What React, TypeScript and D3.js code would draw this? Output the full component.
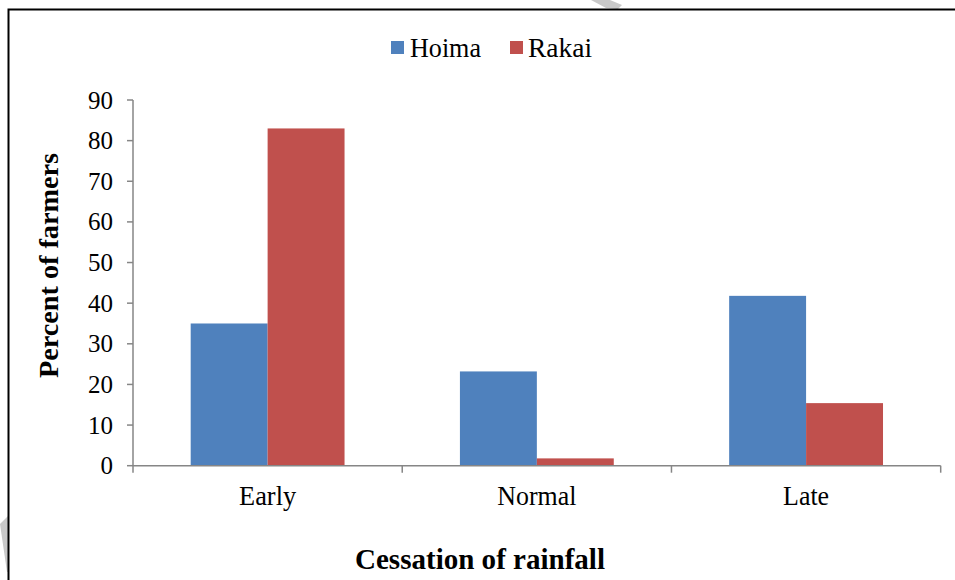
import React from "react";
import * as d3 from "d3";

const categories = ["Early", "Normal", "Late"];
const seriesNames = ["Hoima", "Rakai"];
const hoima = [35, 23.2, 41.8];
const rakai = [83, 1.8, 15.4];
const yTicks = [0, 10, 20, 30, 40, 50, 60, 70, 80, 90];
const colors = ["#4F81BD", "#C0504D"];

const W = 955;
const H = 580;
const left = 133;
const right = 940.7;
const top = 100;
const bottom = 465.7;
const axisColor = "#868686";
const font = "'Liberation Serif', 'Times New Roman', serif";

export default function App() {
  const x = d3.scaleBand<string>().domain(categories).range([left, right]).paddingInner(0).paddingOuter(0);
  const y = d3.scaleLinear().domain([0, 90]).range([bottom, top]);
  const bw = x.bandwidth() / 3.5;
  const inner = d3.scaleBand<string>().domain(seriesNames).range([0, 2 * bw]);
  const values = [hoima, rakai];
  const tickXs = [...categories.map((c) => x(c) as number), right];
  const catWidths = [57, 79, 46];

  return (
    <svg width={W} height={H} style={{ position: "absolute", left: 0, top: 0, background: "#fff" }}>
      <rect x={0} y={0} width={W} height={H} fill="#fff" />
      {/* watermark fragments */}
      <polygon points="591,0 610,0 622,5 618,9 606,8" fill="#c9c9c9" />
      <polygon points="0,524 8,516 8,572 7,572" fill="#c9c9c9" />
      {/* border */}
      <rect x={8.5} y={9.5} width={W + 20} height={H + 20} fill="none" stroke="#000" strokeWidth={2} />

      {/* legend */}
      <g fontFamily={font} fontSize={28} fill="#000">
        <rect x={391} y={41} width={13} height={13} fill={colors[0]} />
        <text x={410} y={57} textLength={71} lengthAdjust="spacingAndGlyphs">{seriesNames[0]}</text>
        <rect x={510} y={41} width={13} height={13} fill={colors[1]} />
        <text x={528} y={57} textLength={64} lengthAdjust="spacingAndGlyphs">{seriesNames[1]}</text>
      </g>

      {/* bars */}
      {categories.map((c, i) => {
        const gx = (x(c) as number) + (x.bandwidth() - 2 * bw) / 2;
        return seriesNames.map((s, j) => (
          <rect
            key={c + s}
            x={gx + (inner(s) as number)}
            y={y(values[j][i])}
            width={inner.bandwidth()}
            height={bottom - y(values[j][i])}
            fill={colors[j]}
          />
        ));
      })}

      {/* y axis */}
      <line x1={left} x2={left} y1={top} y2={bottom} stroke={axisColor} strokeWidth={1.5} />
      {yTicks.map((t) => (
        <g key={t}>
          <line x1={left - 6} x2={left} y1={y(t)} y2={y(t)} stroke={axisColor} strokeWidth={1.5} />
          <text
            x={113}
            y={y(t) + 8.5}
            textAnchor="end"
            fontFamily={font}
            fontSize={25}
            fill="#000"
          >
            {t}
          </text>
        </g>
      ))}

      {/* x axis */}
      <line x1={left} x2={right} y1={bottom} y2={bottom} stroke={axisColor} strokeWidth={1.5} />
      {tickXs.map((tx, i) => (
        <line key={i} x1={tx} x2={tx} y1={bottom} y2={bottom + 7} stroke={axisColor} strokeWidth={1.5} />
      ))}
      {categories.map((c, i) => (
        <text
          key={c}
          x={(x(c) as number) + x.bandwidth() / 2}
          y={505}
          textAnchor="middle"
          fontFamily={font}
          fontSize={28}
          fill="#000"
          textLength={catWidths[i]}
          lengthAdjust="spacingAndGlyphs"
        >
          {c}
        </text>
      ))}

      {/* axis titles */}
      <text
        x={480}
        y={569}
        textAnchor="middle"
        fontFamily={font}
        fontSize={29}
        fontWeight="bold"
        fill="#000"
        textLength={250}
        lengthAdjust="spacingAndGlyphs"
      >
        Cessation of rainfall
      </text>
      <text
        transform={`translate(58,${(153 + 378) / 2}) rotate(-90)`}
        textAnchor="middle"
        fontFamily={font}
        fontSize={27}
        fontWeight="bold"
        fill="#000"
        textLength={225}
        lengthAdjust="spacingAndGlyphs"
      >
        Percent of farmers
      </text>
    </svg>
  );
}
